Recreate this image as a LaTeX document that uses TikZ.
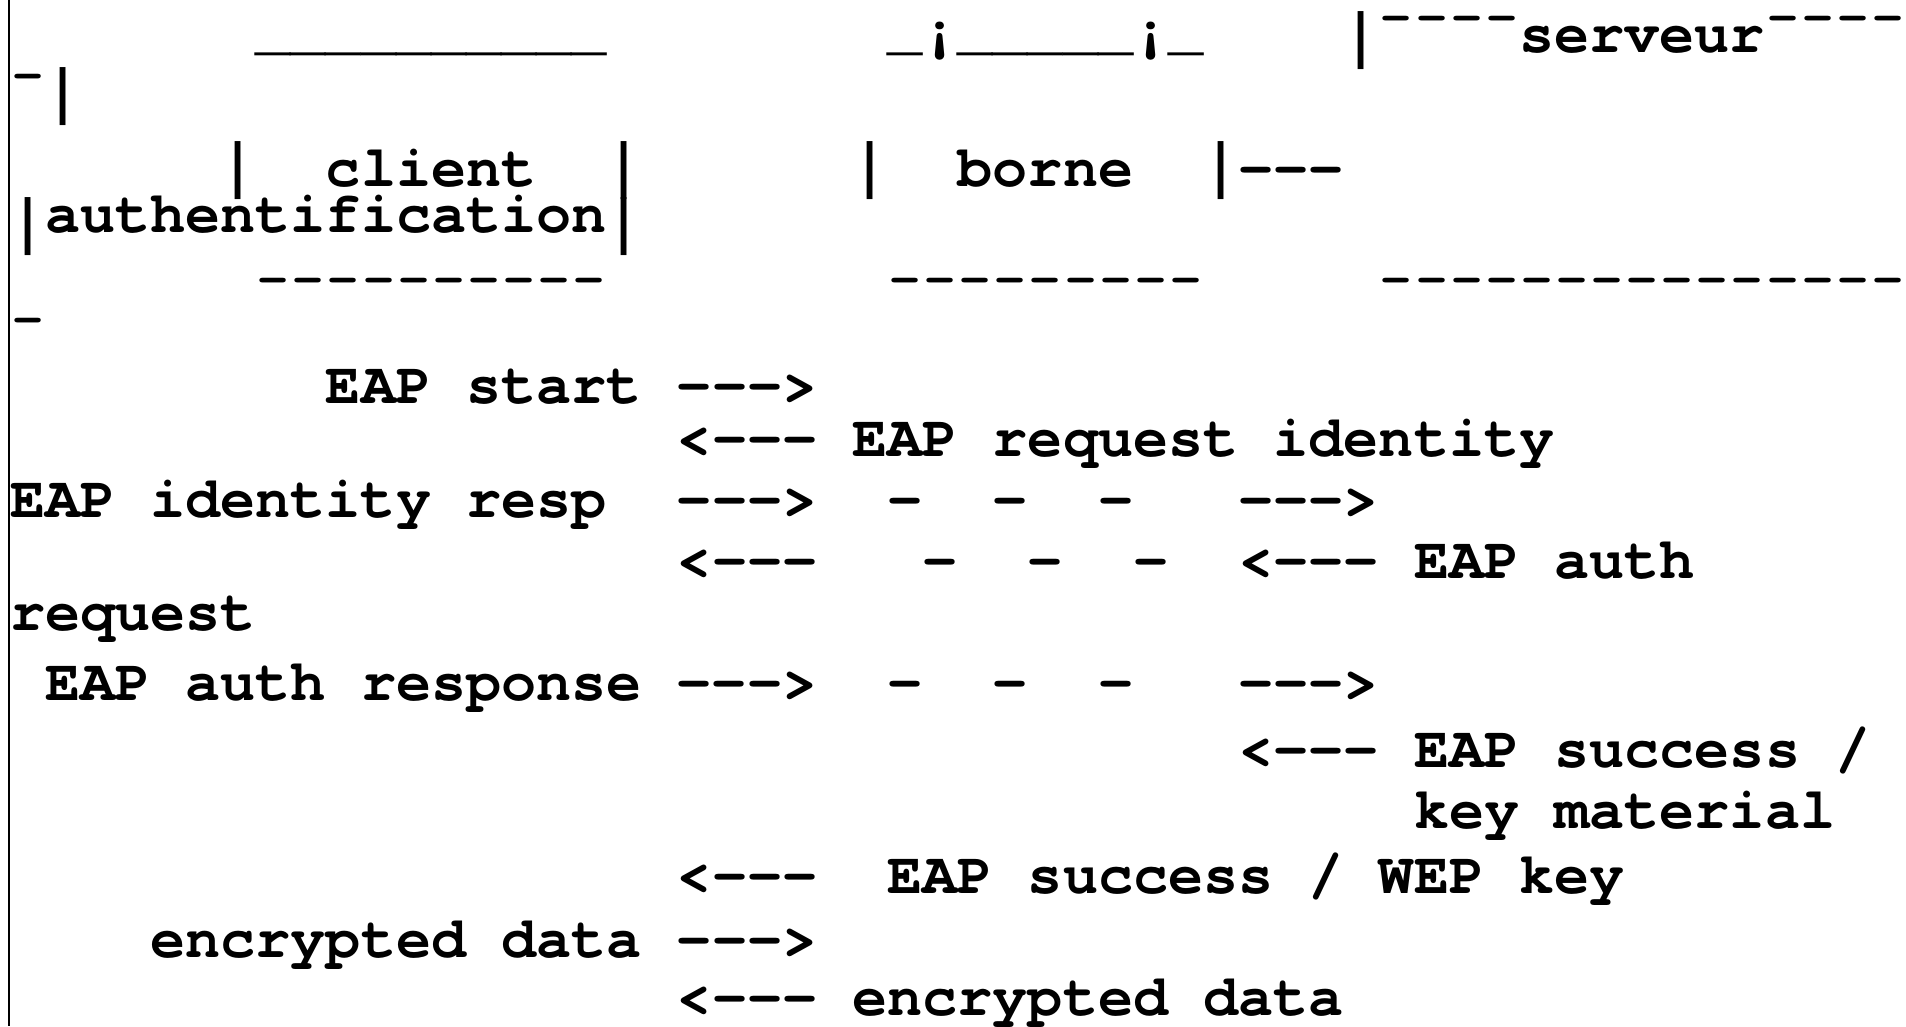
\documentclass[tikz,border=0pt]{standalone}
\usepackage{fontspec}
\newfontfamily\cour{texgyrecursor-bold.otf}[Ligatures={TeXOff,NoCommon}]
\newcommand\place[5][]{\node[txt,#1] (#2) at ({10+35.1*(#3)},#4) {#5};}
\begin{document}
\begin{tikzpicture}[x=1pt,y=-1pt,
  txt/.style={anchor=base west, inner sep=0pt, outer sep=0pt,
    font=\cour\fontsize{58.5}{60}\selectfont},
  tallbar/.style={yscale=1.28, transform shape}]
\useasboundingbox (0,0) rectangle (1906,1026);
\fill[white] (0,0) rectangle (1906,1026);
\draw[line width=2.5pt] (9,0) -- (9,1026);
% row A
\place{ula}{7}{48}{\_\_\_\_\_\_\_\_\_\_}
\place{ulb}{25}{48}{\_¡\_\_\_\_\_¡\_}
\place[tallbar]{barA}{38}{58}{|}
\place{macAa}{39}{52}{¯¯¯¯}
\place{srv}{43}{52}{serveur}
\place{macAb}{50}{52}{¯¯¯¯}
% row B
\place{macB}{0}{110}{¯}
\place[tallbar]{barB}{1}{114}{|}
% row C
\place[tallbar]{barCa}{6}{188}{|}
\place{client}{9}{186}{client}
\place[tallbar]{barCb}{17}{188}{|}
\place[tallbar]{barCc}{24}{188}{|}
\place{borne}{27}{186}{borne}
\place[tallbar]{barCd}{34}{188}{|}
\place{dashC}{35}{186}{---}
% row D
\place[tallbar]{barDa}{0}{244}{|}
\place{auth}{1}{232}{authentification}
\place[tallbar]{barDb}{17}{244}{|}
% row E
\place{macEa}{7}{314}{¯¯¯¯¯¯¯¯¯¯}
\place{macEb}{25}{314}{¯¯¯¯¯¯¯¯¯}
\place{macEc}{39}{314}{¯¯¯¯¯¯¯¯¯¯¯¯¯¯¯}
% row F
\place{macF}{0}{354}{¯}
% messages
\place{m1}{9}{403}{EAP start --->}
\place{m2}{19}{456}{<--- EAP request identity}
\place{m3a}{0}{517}{EAP identity resp}
\place{m3b}{19}{517}{--->}
\place{m3c}{25}{517}{-}
\place{m3d}{28}{517}{-}
\place{m3e}{31}{517}{-}
\place{m3f}{35}{517}{--->}
\place{m4a}{19}{578}{<---}
\place{m4b}{26}{578}{-}
\place{m4c}{29}{578}{-}
\place{m4d}{32}{578}{-}
\place{m4e}{35}{578}{<--- EAP auth}
\place{m5}{0}{630}{request}
\place{m6a}{1}{700}{EAP auth response --->}
\place{m6b}{25}{700}{-}
\place{m6c}{28}{700}{-}
\place{m6d}{31}{700}{-}
\place{m6e}{35}{700}{--->}
\place{m7}{35}{767}{<--- EAP success /}
\place{m8}{40}{828}{key material}
\place{m9a}{19}{893}{<---}
\place{m9b}{25}{893}{EAP success / WEP key}
\place{m10}{4}{957}{encrypted data --->}
\place{m11}{19}{1015}{<--- encrypted data}
\end{tikzpicture}
\end{document}
